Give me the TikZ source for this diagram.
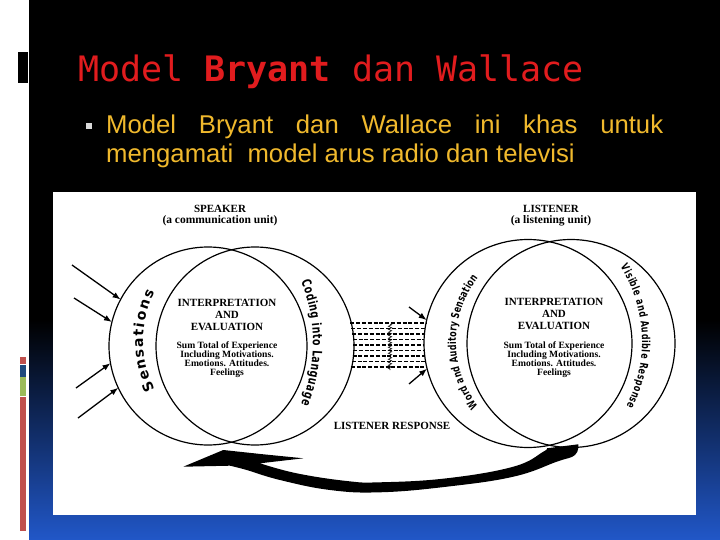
\documentclass[tikz,border=0pt]{standalone}
\usepackage{fontspec}
\setmainfont{Liberation Serif}
\newfontfamily\titlefont{DejaVu Sans Mono}
\newfontfamily\bodyfont{Liberation Sans}
\newfontfamily\arcwide{DejaVu Sans}
\newfontfamily\arcnarrow[FakeStretch=0.72]{DejaVu Sans}
\usetikzlibrary{decorations.text,decorations.pathmorphing,arrows.meta}
\definecolor{titlered}{RGB}{225,28,30}
\definecolor{bulletyellow}{RGB}{240,185,45}
\definecolor{slideblue}{RGB}{33,87,200}
\definecolor{barred}{RGB}{192,80,77}
\definecolor{barblue}{RGB}{31,73,125}
\definecolor{bargreen}{RGB}{155,187,89}
\begin{document}
\begin{tikzpicture}[x=1pt,y=1pt,
  ring/.style={circle, draw=black, line width=1.2pt, inner sep=0pt, outer sep=0pt, minimum size=#1},
  hdr/.style={inner sep=0pt, font=\fontsize{11}{12}\selectfont\bfseries},
  subhdr/.style={inner sep=0pt, font=\fontsize{11.5}{12}\selectfont\bfseries},
  ietitle/.style={inner sep=0pt, align=center, font=\fontsize{11}{12.2}\selectfont\bfseries},
  iebody/.style={inner sep=0pt, align=center, font=\fontsize{9.6}{8.9}\selectfont\bfseries},
  inarrow/.style={line width=1.3pt, -{Latex[length=8pt,width=6pt]}},
  dashline/.style={line width=1.1pt, dash pattern=on 4pt off 1.8pt},
  arctext/.style={decorate, decoration={text along path, text align={fit to path}, text={#1}}}
]
\useasboundingbox (0,0) rectangle (720,-540);
% slide background
\fill[white] (0,0) rectangle (720,-540);
\fill[black] (29,0) rectangle (720,-320);
\shade[top color=black, bottom color=slideblue] (29,-320) rectangle (720,-540);
\fill[black] (17.5,-52) rectangle (27.5,-83);
\fill[barred] (20,-357) rectangle (26,-364);
\fill[barblue] (20,-365) rectangle (26,-377);
\fill[bargreen] (20,-377) rectangle (26,-396);
\fill[barred] (20,-397) rectangle (26,-531);
% title and bullet text
\node[anchor=base west, inner sep=0pt, text=titlered, font=\titlefont\fontsize{35}{35}\selectfont] (title) at (78,-82) {Model \textbf{Bryant} dan Wallace};
\fill[black!15] (86,-123) rectangle (92,-129);
\node[anchor=base west, inner sep=0pt, text=bulletyellow, font=\bodyfont\fontsize{25.7}{28}\selectfont] (line1) at (106,-134) {\makebox[557pt][s]{Model Bryant dan Wallace ini khas untuk}};
\node[anchor=base west, inner sep=0pt, text=bulletyellow, font=\bodyfont\fontsize{25.7}{28}\selectfont] (line2) at (106,-163) {mengamati\ \ model arus radio dan televisi};
% white panel
\fill[white] (53,-192) rectangle (696,-515);
% headings
\node[hdr] (spk) at (220,-209) {SPEAKER};
\node[subhdr] (spksub) at (220,-221) {(a communication unit)};
\node[hdr] (lis) at (551,-209) {LISTENER};
\node[subhdr] (lissub) at (551,-221) {(a listening unit)};
% circles
\node[ring=198pt] (spkL) at (208,-346) {};
\node[ring=198pt] (spkR) at (255,-346) {};
\node[ring=208pt] (lisL) at (528,-343.5) {};
\node[ring=208pt] (lisR) at (571,-343.5) {};
% inner texts
\node[ietitle] (spkIE) at (227,-315) {INTERPRETATION\\AND\\EVALUATION};
\node[iebody] (spkSum) at (227,-360) {Sum Total of Experience\\Including Motivations.\\Emotions. Attitudes.\\Feelings};
\node[ietitle] (lisIE) at (554,-314) {INTERPRETATION\\AND\\EVALUATION};
\node[iebody] (lisSum) at (554,-359.5) {Sum Total of Experience\\Including Motivations.\\Emotions. Attitudes.\\Feelings};
% curved labels
\path[arctext={|\arcwide\bfseries\fontsize{14}{14}\selectfont|Sensations}]
  ([shift={(250,-341)}]207:107) arc[start angle=207, end angle=153, radius=107];
\path[arctext={|\arcnarrow\bfseries\fontsize{13}{13}\selectfont|Coding into Language}]
  ([shift={(150,-343)}]22:163) arc[start angle=22, end angle=-22, radius=163];
\path[arctext={|\arcnarrow\bfseries\fontsize{11}{11}\selectfont|Word and Auditory Sensation}]
  ([shift={(560,-342)}]218:104) arc[start angle=218, end angle=142, radius=104];
\path[arctext={|\arcnarrow\bfseries\fontsize{11}{11}\selectfont|Visible and Audible Response}]
  ([shift={(500,-342)}]32:142) arc[start angle=32, end angle=-27, radius=142];
% incoming sensation arrows
\coordinate (s1) at (72,-265);
\coordinate (s2) at (74,-298);
\coordinate (s3) at (76,-388);
\coordinate (s4) at (78,-418);
\draw[inarrow] (s1) -- (spkL.152);
\draw[inarrow] (s2) -- (spkL.166);
\draw[inarrow] (s3) -- (spkL.190);
\draw[inarrow] (s4) -- (spkL.205);
\coordinate (w1) at (409,-307);
\coordinate (w2) at (409,-384);
\draw[inarrow] (w1) -- (lisL.167);
\draw[inarrow] (w2) -- (lisL.194);
% dashed channel
\foreach \yy/\xa/\xb in {323/350.3/426, 328.5/351.4/425.1, 334/352.3/424.4, 339.5/352.8/424.1, 345/353/424, 350.5/352.9/424.2, 356/352.5/424.8, 361.5/351.8/425.6, 367/350.7/426.7}
  \draw[dashline] (\xa,-\yy) -- (\xb,-\yy);
\draw[line width=0.6pt, decorate, decoration={zigzag, amplitude=1.6pt, segment length=3pt}] (390,-324) -- (390,-370);
% listener response
\node[hdr] (resp) at (392,-426) {LISTENER RESPONSE};
\fill[black] (183.3,-466.7) -- (223.3,-450) -- (263.3,-454.3) -- (303.3,-458.3) -- (260,-463.3)
  -- plot[smooth, tension=0.7] coordinates {(260,-463.3) (296.7,-473.3) (346.7,-481) (380,-482.3) (446.7,-478.3) (513.3,-466.7) (543.3,-451.7) (546.7,-448.3)}
  -- (578.3,-444.3)
  -- plot[smooth, tension=0.7] coordinates {(578.3,-444.3) (575,-455) (556.7,-461.7) (513.3,-476.7) (446.7,-486.7) (380,-492.3) (330,-490) (280,-480) (246.7,-470) (230,-465.7)}
  -- cycle;
\end{tikzpicture}
\end{document}
